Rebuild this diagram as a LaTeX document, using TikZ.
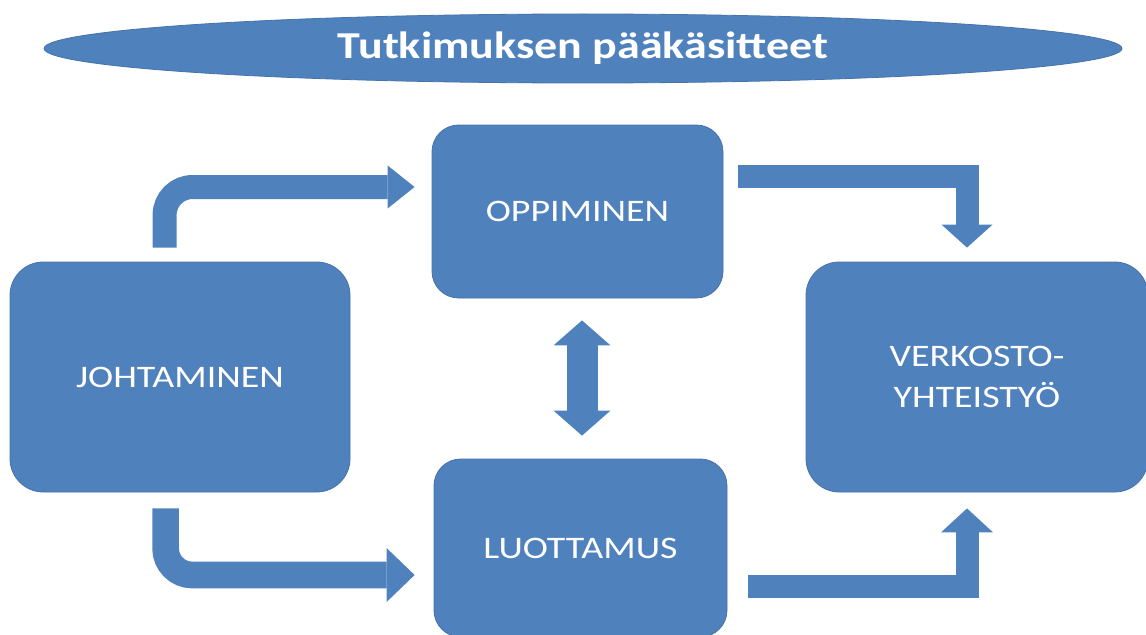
\documentclass[tikz,border=0pt]{standalone}
\usepackage{fontspec}
\newfontfamily\boxfont[FakeStretch=1.21]{Carlito}
\usetikzlibrary{arrows.meta,calc,shapes.geometric}
\definecolor{ofblue}{HTML}{4F81BD}
\definecolor{ofedge}{HTML}{4573AA}
\begin{document}
\begin{tikzpicture}[x=0.75pt,y=-0.75pt,
  blockbox/.style={rectangle,fill=ofblue,draw=ofedge,line width=0.6pt,text=white,
    align=center,inner sep=0pt,font=\boxfont\fontsize{23.5}{30.75}\selectfont},
  smallbox/.style={blockbox,rounded corners=20pt,minimum width=#1},
  bigbox/.style={blockbox,rounded corners=25pt},
  blockarrow/.style={draw=ofblue,line width=#1},
]
\useasboundingbox (0,0) rectangle (1146,635);
% title
\node[ellipse,fill=ofblue,draw=ofedge,line width=0.6pt,minimum width=808.5pt,minimum height=51.75pt,
  inner sep=0pt,text=white,font=\boxfont\bfseries\fontsize{28.5}{32}\selectfont] (title) at (583,48.5) {Tutkimuksen pääkäsitteet};
% boxes
\node[blockbox,rounded corners=20pt,minimum width=218.25pt,minimum height=129.75pt] (opp) at (577.5,211.5) {OPPIMINEN};
\node[blockbox,rounded corners=25pt,minimum width=255pt,minimum height=172.5pt] (joh) at (180,377) {JOHTAMINEN};
\node[blockbox,rounded corners=20pt,minimum width=219.75pt,minimum height=133.5pt] (luo) at (580.5,548) {LUOTTAMUS};
\node[blockbox,rounded corners=25pt,minimum width=256.5pt,minimum height=172.5pt] (ver) at (977,377) {VERKOSTO-\\YHTEISTYÖ};
% connector end points
\coordinate (a1s) at ($(joh.north west)+(155,-14)$);
\coordinate (a1e) at ($(opp.west)+(-17,-24.5)$);
\coordinate (a2s) at ($(opp.east)+(15,-35.5)$);
\coordinate (a2e) at ($(ver.north)+(-10,-14)$);
\coordinate (a3s) at ($(joh.south west)+(156,16)$);
\coordinate (a3e) at ($(luo.west)+(-19,27)$);
\coordinate (a4s) at ($(luo.east)+(21,38)$);
\coordinate (a4e) at ($(ver.south)+(-10,16)$);
\coordinate (a5s) at ($(opp.south)+(4.5,22)$);
\coordinate (a5e) at ($(luo.north)+(1.5,-23)$);
% block arrows
\draw[blockarrow=18pt,rounded corners=21pt,
  -{Triangle[width=32.25pt,length=20.25pt,line width=0pt]}] (a1s) |- (a1e);
\draw[blockarrow=17.25pt,
  -{Triangle[width=38.25pt,length=17.25pt,line width=0pt]}] (a2s) -| (a2e);
\draw[blockarrow=20pt,rounded corners=20pt,
  -{Triangle[width=40.5pt,length=21pt,line width=0pt]}] (a3s) |- (a3e);
\draw[blockarrow=17.25pt,
  -{Triangle[width=39pt,length=18pt,line width=0pt]}] (a4s) -| (a4e);
\draw[blockarrow=23.25pt,
  {Triangle[width=42.75pt,length=18.75pt,line width=0pt]}-{Triangle[width=42.75pt,length=18.75pt,line width=0pt]}] (a5s) -- (a5e);
\end{tikzpicture}
\end{document}
